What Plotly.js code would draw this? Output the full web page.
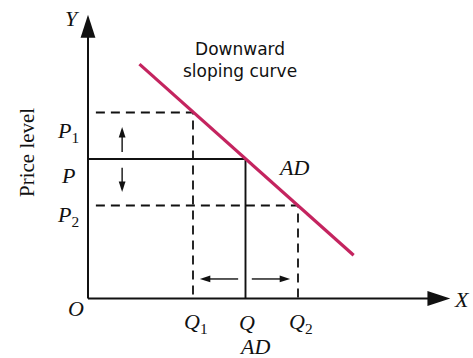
<!DOCTYPE html>
<html><head><meta charset="utf-8">
<script src="https://cdn.plot.ly/plotly-3.0.1.min.js"></script>
<style>html,body{margin:0;padding:0;background:#fff}#chart{width:473px;height:358px}</style>
</head><body><div id="chart"></div>
<script>
// Quantity demanded (X axis) and price levels (Y axis)
const qLabels = ['<i>Q</i><sub>1</sub>', '<i>Q</i>', '<i>Q</i><sub>2</sub>'];
const qValues = [2, 3, 4];
const pLabels = ['<i>P</i><sub>1</sub>', '<i>P</i>', '<i>P</i><sub>2</sub>'];
const pValues = [4, 3, 2];
// Aggregate demand curve end points
const adX = [0.98, 5.06];
const adY = [5.04, 0.93];
// Axis extents
const axisXEnd = 6.9;
const axisYEnd = 6.1;
// Movement arrows
const priceArrowX = 0.65;
const priceUpY = [3.15, 3.69];
const priceDownY = [2.81, 2.29];
const qtyArrowY = 0.42;
const qtyLeftX = [2.86, 2.13];
const qtyRightX = [3.12, 3.85];
// Text
const yAxisTitle = 'Price level';
const xAxisTitle = '<i>AD</i>';
const curveLabel = '<i>AD</i>';
const curveNote = 'Downward<br>sloping curve';

const ink = '#111111';
const adColor = '#c4245f';
const dashStart = 0.15;

function arrowTrace(xs, ys, width, size) {
  return {
    x: xs, y: ys, mode: 'lines+markers', hoverinfo: 'skip',
    line: {color: ink, width: width},
    marker: {symbol: 'arrow', angleref: 'previous', size: [0, size], color: ink, opacity: 1, line: {width: 0}},
    cliponaxis: false
  };
}

const traces = [
  arrowTrace([0, 0], [0, axisYEnd], 2, 24),
  arrowTrace([0, axisXEnd], [0, 0], 2, 24),
  {x: [dashStart, qValues[0], qValues[0]], y: [pValues[0], pValues[0], 0], mode: 'lines', hoverinfo: 'skip',
   line: {color: ink, width: 1.8, dash: '9px,6px'}},
  {x: [dashStart, qValues[2], qValues[2]], y: [pValues[2], pValues[2], 0], mode: 'lines', hoverinfo: 'skip',
   line: {color: ink, width: 1.8, dash: '9px,6px'}},
  {x: [0, qValues[1], qValues[1]], y: [pValues[1], pValues[1], 0], mode: 'lines', hoverinfo: 'skip',
   line: {color: ink, width: 1.9}},
  {x: adX, y: adY, mode: 'lines', hoverinfo: 'skip', line: {color: adColor, width: 3.2}},
  arrowTrace([priceArrowX, priceArrowX], priceUpY, 1.4, 11),
  arrowTrace([priceArrowX, priceArrowX], priceDownY, 1.4, 11),
  arrowTrace(qtyLeftX, [qtyArrowY, qtyArrowY], 1.4, 11),
  arrowTrace(qtyRightX, [qtyArrowY, qtyArrowY], 1.4, 11)
];

const serif = 'Liberation Serif, DejaVu Serif, serif';
const labelFont = {family: serif, size: 22, color: ink};
const ann = [];
function label(text, x, y, xs, ys, font, extra) {
  ann.push(Object.assign({text: text, x: x, y: y, xref: 'x', yref: 'y', showarrow: false,
    xanchor: 'center', yanchor: 'middle', xshift: xs, yshift: ys, font: font}, extra || {}));
}
const qShift = [3, 1.5, 3];
qValues.forEach((q, i) => label(qLabels[i], q, 0, qShift[i], -24, labelFont));
const pShift = [-19, -16, -10];
pValues.forEach((p, i) => label(pLabels[i], 0, p, -20, pShift[i], labelFont));
label('<i>Y</i>', 0, axisYEnd, -16, -4, labelFont);
label('<i>X</i>', axisXEnd, 0, 12, -1, labelFont);
label('<i>O</i>', 0, 0, -12, -10, labelFont);
label(curveLabel, qValues[1], pValues[1], 48, -8, labelFont);
label(xAxisTitle, qValues[1], 0, 9, -48, labelFont);
label(yAxisTitle, 0, pValues[1], -61, 6, {family: serif, size: 21, color: ink}, {textangle: -90});
label(curveNote, adX[0], adY[0], 101, 4, {family: 'DejaVu Sans, Verdana, sans-serif', size: 17, color: ink});

const layout = {
  width: 473, height: 358,
  margin: {l: 0, r: 0, t: 0, b: 0, pad: 0},
  paper_bgcolor: '#ffffff', plot_bgcolor: '#ffffff',
  showlegend: false,
  xaxis: {range: [-1.6762, 7.3333], visible: false, fixedrange: true},
  yaxis: {range: [-1.2796, 6.4194], visible: false, fixedrange: true},
  annotations: ann
};
Plotly.newPlot('chart', traces, layout, {displayModeBar: false, staticPlot: true});
</script>
</body></html>
